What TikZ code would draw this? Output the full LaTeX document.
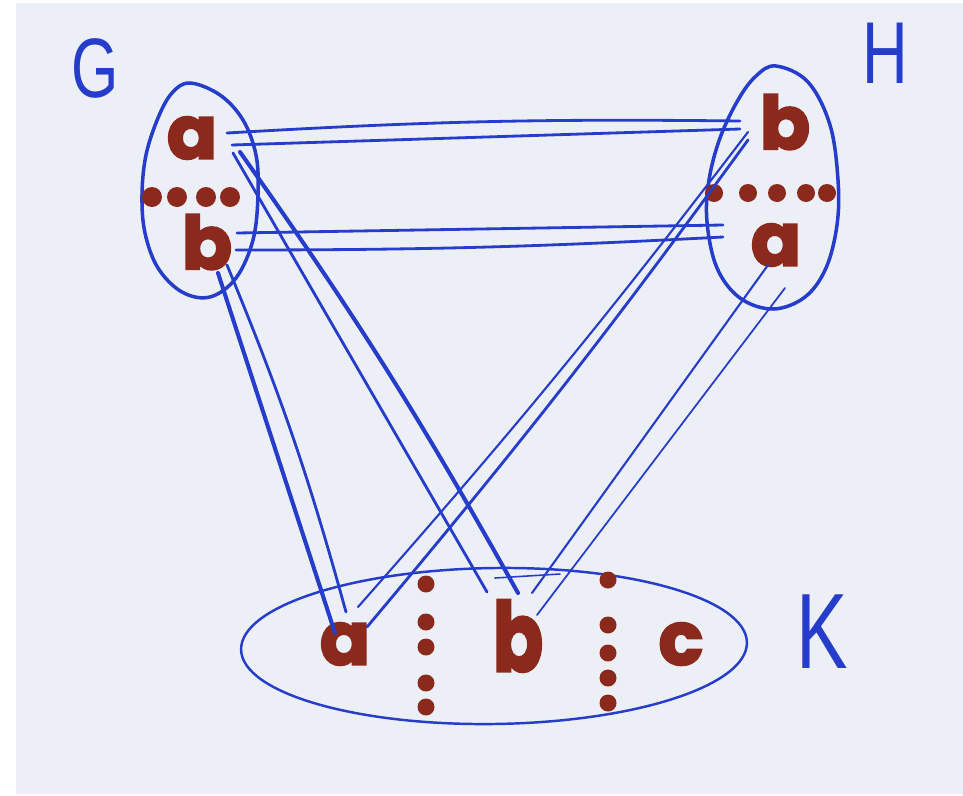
\documentclass[tikz,border=0pt]{standalone}
\usepackage{fontspec}
\newfontfamily\blobfont{Poppins Bold}[FakeBold=3]
\newfontfamily\labelfont{Liberation Sans}
\definecolor{paper}{RGB}{237,239,247}
\definecolor{inkblue}{RGB}{38,60,202}
\definecolor{inkbrown}{RGB}{139,42,28}
\begin{document}
\begin{tikzpicture}[x=0.02cm,y=-0.02cm,
  ink/.style={draw=inkblue,line width=1.6pt,line cap=round,line join=round},
  thinink/.style={ink,line width=1.2pt},
  thickink/.style={ink,line width=2.3pt},
  blob/.style={text=inkbrown,inner sep=0pt,font=\blobfont\fontsize{42}{42}\selectfont},
  dot/.style={fill=inkbrown},
  lbl/.style={text=inkblue,inner sep=0pt,xscale=0.72}]
\fill[white] (0,0) rectangle (963,795);
\useasboundingbox (0,0) rectangle (963,795);
\fill[paper] (16,3) rectangle (963,794);

% labels
\node[lbl,font=\labelfont\fontsize{48}{48}\selectfont] (G) at (95,68) {G};
\node[lbl,font=\labelfont\fontsize{50}{50}\selectfont] (H) at (885,53) {H};
\node[lbl,font=\labelfont\fontsize{61}{61}\selectfont] (K) at (822,632) {K};

% regions
\draw[ink,line width=2pt] plot[smooth cycle,tension=0.6] coordinates {
  (190,83) (220,95) (243,120) (256,155) (258,195) (253,240) (236,278) (210,297)
  (182,292) (158,268) (145,233) (142,195) (146,155) (158,118) (172,93)};
\draw[ink,line width=2pt] plot[smooth cycle,tension=0.6] coordinates {
  (776,66) (808,82) (830,125) (838,180) (837,225) (826,268) (805,297) (773,309)
  (740,298) (717,268) (707,222) (709,180) (720,138) (738,100) (756,76)};
\draw[ink,line width=1.4pt] (494,646) ellipse [x radius=5.06cm, y radius=1.56cm, rotate=0.8];
\draw[thinink,line width=0.9pt] (495,578) -- (560,574);

% elements
\node[blob] (Ga) at (192,138) {a};
\node[blob] (Gb) at (207,242) {b};
\node[blob] (Hb) at (785,122) {b};
\node[blob] (Ha) at (776,245) {a};
\node[blob] (Ka) at (345,644) {a};
\node[blob,yscale=1.3] (Kb) at (518,636) {b};
\node[blob] (Kc) at (681,644) {c};

% dots
\foreach \x in {152,177,206,230} \fill[dot] (\x,197) circle[radius=0.2cm];
\foreach \x in {714,748,777,806,827} \fill[dot] (\x,193) circle[radius=0.18cm];
\foreach \y in {584,622,647,683,707} \fill[dot] (426,\y) circle[radius=0.17cm];
\foreach \y in {580,625,653,678,703} \fill[dot] (608,\y) circle[radius=0.17cm];

% connector end points
\coordinate (gaH1) at (227,133); \coordinate (hbG1) at (740,121);
\coordinate (gaH2) at (232,145); \coordinate (hbG2) at (740,129);
\coordinate (gbH1) at (237,233); \coordinate (haG1) at (723,225);
\coordinate (gbH2) at (236,250); \coordinate (haG2) at (723,237);
\coordinate (gaK1) at (233,153); \coordinate (kbG1) at (487,592);
\coordinate (gaK2) at (240,152); \coordinate (kbG2) at (518,593);
\coordinate (gbK1) at (218,273); \coordinate (kaG1) at (335,633);
\coordinate (gbK2) at (227,265); \coordinate (kaG2) at (346,612);
\coordinate (hbK1) at (748,132); \coordinate (kaH1) at (358,607);
\coordinate (hbK2) at (748,140); \coordinate (kaH2) at (367,627);
\coordinate (haK1) at (768,265); \coordinate (kbH1) at (532,593);
\coordinate (haK2) at (785,288); \coordinate (kbH2) at (537,615);

% connectors
\draw[ink] (gaH1) to[bend left=2] (hbG1);
\draw[ink] (gaH2) -- (hbG2);
\draw[ink] (gbH1) -- (haG1);
\draw[ink] (gbH2) to[bend right=1.5] (haG2);
\draw[ink] (gaK1) -- (kbG1);
\draw[thickink] (gaK2) to[bend left=3] (kbG2);
\draw[thickink] (gbK1) -- (kaG1);
\draw[ink] (gbK2) to[bend left=3.5] (kaG2);
\draw[thinink] (hbK1) to[bend left=2] (kaH1);
\draw[ink] (hbK2) to[bend left=2] (kaH2);
\draw[thinink] (haK1) -- (kbH1);
\draw[thinink,line width=1pt] (haK2) -- (kbH2);
\end{tikzpicture}
\end{document}
